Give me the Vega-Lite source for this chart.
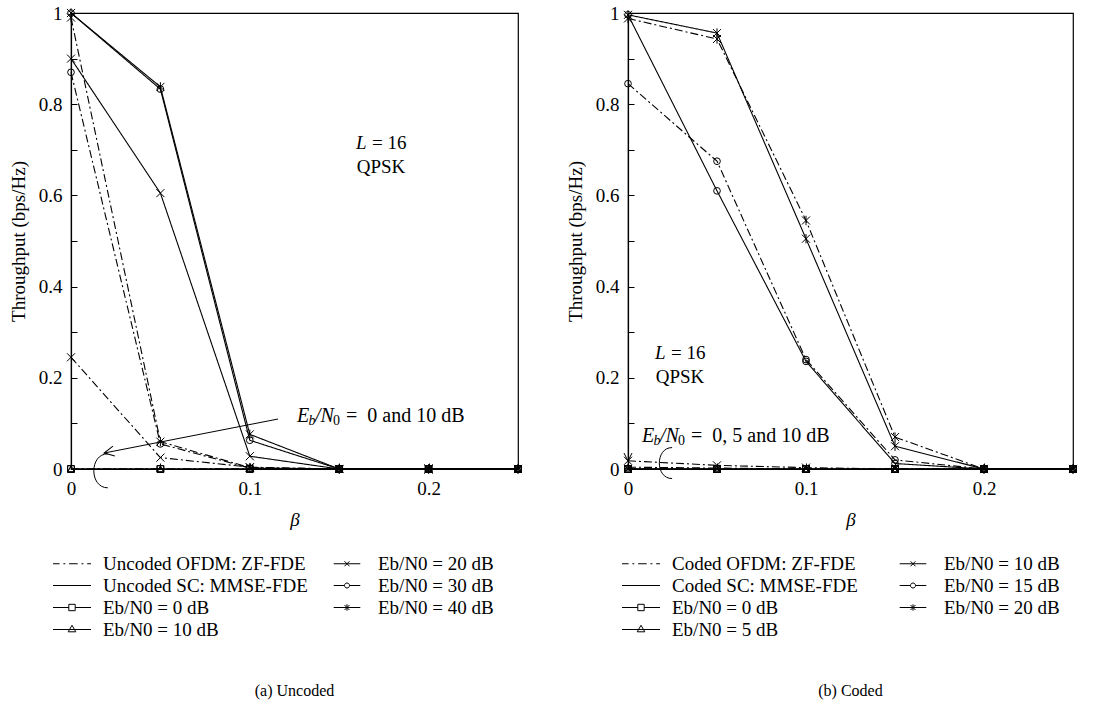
{
"$schema": "https://vega.github.io/schema/vega-lite/v6.json",
"background": "white",
"padding": {"left": 8, "top": 3, "right": 0, "bottom": 0},
"spacing": 40,
"config": {
 "font": "Liberation Serif",
 "view": {"stroke": "black", "strokeWidth": 1.2},
 "axis": {"domainColor": "black", "domainWidth": 1.2, "tickColor": "black", "tickWidth": 1, "tickSize": -6, "labelFontSize": 19, "labelColor": "black", "labelFont": "Liberation Serif", "titleFont": "Liberation Serif", "titleFontSize": 19, "titleFontWeight": "normal", "titleColor": "black", "grid": false, "labelOverlap": false, "labelFlush": false},
 "legend": {"labelFont": "Liberation Serif", "labelFontSize": 19, "labelColor": "black", "symbolStrokeColor": "black", "symbolFillColor": "transparent", "symbolStrokeWidth": 1, "symbolSize": 400, "symbolOpacity": 1, "labelOffset": 20.5, "rowPadding": 1, "labelLimit": 400, "orient": "none", "columns": 2},
 "title": {"font": "Liberation Serif", "fontSize": 16, "fontWeight": "normal", "color": "black"}
},
"datasets": {
 "unc": [
  {"scheme":"OFDM","snr":"0 dB","beta":0,"thr":0},{"scheme":"OFDM","snr":"0 dB","beta":0.05,"thr":0},{"scheme":"OFDM","snr":"0 dB","beta":0.1,"thr":0},{"scheme":"OFDM","snr":"0 dB","beta":0.15,"thr":0},{"scheme":"OFDM","snr":"0 dB","beta":0.2,"thr":0},{"scheme":"OFDM","snr":"0 dB","beta":0.25,"thr":0},
  {"scheme":"OFDM","snr":"10 dB","beta":0,"thr":0},{"scheme":"OFDM","snr":"10 dB","beta":0.05,"thr":0},{"scheme":"OFDM","snr":"10 dB","beta":0.1,"thr":0},{"scheme":"OFDM","snr":"10 dB","beta":0.15,"thr":0},{"scheme":"OFDM","snr":"10 dB","beta":0.2,"thr":0},{"scheme":"OFDM","snr":"10 dB","beta":0.25,"thr":0},
  {"scheme":"OFDM","snr":"20 dB","beta":0,"thr":0.245},{"scheme":"OFDM","snr":"20 dB","beta":0.05,"thr":0.025},{"scheme":"OFDM","snr":"20 dB","beta":0.1,"thr":0.004},{"scheme":"OFDM","snr":"20 dB","beta":0.15,"thr":0},{"scheme":"OFDM","snr":"20 dB","beta":0.2,"thr":0},{"scheme":"OFDM","snr":"20 dB","beta":0.25,"thr":0},
  {"scheme":"OFDM","snr":"30 dB","beta":0,"thr":0.87},{"scheme":"OFDM","snr":"30 dB","beta":0.05,"thr":0.055},{"scheme":"OFDM","snr":"30 dB","beta":0.1,"thr":0.002},{"scheme":"OFDM","snr":"30 dB","beta":0.15,"thr":0},{"scheme":"OFDM","snr":"30 dB","beta":0.2,"thr":0},{"scheme":"OFDM","snr":"30 dB","beta":0.25,"thr":0},
  {"scheme":"OFDM","snr":"40 dB","beta":0,"thr":0.99},{"scheme":"OFDM","snr":"40 dB","beta":0.05,"thr":0.06},{"scheme":"OFDM","snr":"40 dB","beta":0.1,"thr":0.003},{"scheme":"OFDM","snr":"40 dB","beta":0.15,"thr":0},{"scheme":"OFDM","snr":"40 dB","beta":0.2,"thr":0},{"scheme":"OFDM","snr":"40 dB","beta":0.25,"thr":0},
  {"scheme":"SC","snr":"0 dB","beta":0,"thr":0},{"scheme":"SC","snr":"0 dB","beta":0.05,"thr":0},{"scheme":"SC","snr":"0 dB","beta":0.1,"thr":0},{"scheme":"SC","snr":"0 dB","beta":0.15,"thr":0},{"scheme":"SC","snr":"0 dB","beta":0.2,"thr":0},{"scheme":"SC","snr":"0 dB","beta":0.25,"thr":0},
  {"scheme":"SC","snr":"10 dB","beta":0,"thr":0},{"scheme":"SC","snr":"10 dB","beta":0.05,"thr":0},{"scheme":"SC","snr":"10 dB","beta":0.1,"thr":0},{"scheme":"SC","snr":"10 dB","beta":0.15,"thr":0},{"scheme":"SC","snr":"10 dB","beta":0.2,"thr":0},{"scheme":"SC","snr":"10 dB","beta":0.25,"thr":0},
  {"scheme":"SC","snr":"20 dB","beta":0,"thr":0.9},{"scheme":"SC","snr":"20 dB","beta":0.05,"thr":0.605},{"scheme":"SC","snr":"20 dB","beta":0.1,"thr":0.028},{"scheme":"SC","snr":"20 dB","beta":0.15,"thr":0},{"scheme":"SC","snr":"20 dB","beta":0.2,"thr":0},{"scheme":"SC","snr":"20 dB","beta":0.25,"thr":0},
  {"scheme":"SC","snr":"30 dB","beta":0,"thr":1.0},{"scheme":"SC","snr":"30 dB","beta":0.05,"thr":0.833},{"scheme":"SC","snr":"30 dB","beta":0.1,"thr":0.063},{"scheme":"SC","snr":"30 dB","beta":0.15,"thr":0},{"scheme":"SC","snr":"30 dB","beta":0.2,"thr":0},{"scheme":"SC","snr":"30 dB","beta":0.25,"thr":0},
  {"scheme":"SC","snr":"40 dB","beta":0,"thr":1.0},{"scheme":"SC","snr":"40 dB","beta":0.05,"thr":0.838},{"scheme":"SC","snr":"40 dB","beta":0.1,"thr":0.076},{"scheme":"SC","snr":"40 dB","beta":0.15,"thr":0},{"scheme":"SC","snr":"40 dB","beta":0.2,"thr":0},{"scheme":"SC","snr":"40 dB","beta":0.25,"thr":0}
 ],
 "cod": [
  {"scheme":"OFDM","snr":"0 dB","beta":0,"thr":0},{"scheme":"OFDM","snr":"0 dB","beta":0.05,"thr":0},{"scheme":"OFDM","snr":"0 dB","beta":0.1,"thr":0},{"scheme":"OFDM","snr":"0 dB","beta":0.15,"thr":0},{"scheme":"OFDM","snr":"0 dB","beta":0.2,"thr":0},{"scheme":"OFDM","snr":"0 dB","beta":0.25,"thr":0},
  {"scheme":"OFDM","snr":"5 dB","beta":0,"thr":0.004},{"scheme":"OFDM","snr":"5 dB","beta":0.05,"thr":0.002},{"scheme":"OFDM","snr":"5 dB","beta":0.1,"thr":0},{"scheme":"OFDM","snr":"5 dB","beta":0.15,"thr":0},{"scheme":"OFDM","snr":"5 dB","beta":0.2,"thr":0},{"scheme":"OFDM","snr":"5 dB","beta":0.25,"thr":0},
  {"scheme":"OFDM","snr":"10 dB","beta":0,"thr":0.018},{"scheme":"OFDM","snr":"10 dB","beta":0.05,"thr":0.008},{"scheme":"OFDM","snr":"10 dB","beta":0.1,"thr":0.003},{"scheme":"OFDM","snr":"10 dB","beta":0.15,"thr":0},{"scheme":"OFDM","snr":"10 dB","beta":0.2,"thr":0},{"scheme":"OFDM","snr":"10 dB","beta":0.25,"thr":0},
  {"scheme":"OFDM","snr":"15 dB","beta":0,"thr":0.845},{"scheme":"OFDM","snr":"15 dB","beta":0.05,"thr":0.675},{"scheme":"OFDM","snr":"15 dB","beta":0.1,"thr":0.24},{"scheme":"OFDM","snr":"15 dB","beta":0.15,"thr":0.02},{"scheme":"OFDM","snr":"15 dB","beta":0.2,"thr":0},{"scheme":"OFDM","snr":"15 dB","beta":0.25,"thr":0},
  {"scheme":"OFDM","snr":"20 dB","beta":0,"thr":0.988},{"scheme":"OFDM","snr":"20 dB","beta":0.05,"thr":0.943},{"scheme":"OFDM","snr":"20 dB","beta":0.1,"thr":0.545},{"scheme":"OFDM","snr":"20 dB","beta":0.15,"thr":0.07},{"scheme":"OFDM","snr":"20 dB","beta":0.2,"thr":0},{"scheme":"OFDM","snr":"20 dB","beta":0.25,"thr":0},
  {"scheme":"SC","snr":"0 dB","beta":0,"thr":0},{"scheme":"SC","snr":"0 dB","beta":0.05,"thr":0},{"scheme":"SC","snr":"0 dB","beta":0.1,"thr":0},{"scheme":"SC","snr":"0 dB","beta":0.15,"thr":0},{"scheme":"SC","snr":"0 dB","beta":0.2,"thr":0},{"scheme":"SC","snr":"0 dB","beta":0.25,"thr":0},
  {"scheme":"SC","snr":"5 dB","beta":0,"thr":0},{"scheme":"SC","snr":"5 dB","beta":0.05,"thr":0},{"scheme":"SC","snr":"5 dB","beta":0.1,"thr":0},{"scheme":"SC","snr":"5 dB","beta":0.15,"thr":0},{"scheme":"SC","snr":"5 dB","beta":0.2,"thr":0},{"scheme":"SC","snr":"5 dB","beta":0.25,"thr":0},
  {"scheme":"SC","snr":"10 dB","beta":0,"thr":0},{"scheme":"SC","snr":"10 dB","beta":0.05,"thr":0},{"scheme":"SC","snr":"10 dB","beta":0.1,"thr":0},{"scheme":"SC","snr":"10 dB","beta":0.15,"thr":0},{"scheme":"SC","snr":"10 dB","beta":0.2,"thr":0},{"scheme":"SC","snr":"10 dB","beta":0.25,"thr":0},
  {"scheme":"SC","snr":"15 dB","beta":0,"thr":0.996},{"scheme":"SC","snr":"15 dB","beta":0.05,"thr":0.61},{"scheme":"SC","snr":"15 dB","beta":0.1,"thr":0.236},{"scheme":"SC","snr":"15 dB","beta":0.15,"thr":0.012},{"scheme":"SC","snr":"15 dB","beta":0.2,"thr":0},{"scheme":"SC","snr":"15 dB","beta":0.25,"thr":0},
  {"scheme":"SC","snr":"20 dB","beta":0,"thr":0.996},{"scheme":"SC","snr":"20 dB","beta":0.05,"thr":0.956},{"scheme":"SC","snr":"20 dB","beta":0.1,"thr":0.505},{"scheme":"SC","snr":"20 dB","beta":0.15,"thr":0.05},{"scheme":"SC","snr":"20 dB","beta":0.2,"thr":0},{"scheme":"SC","snr":"20 dB","beta":0.25,"thr":0}
 ],
 "legU": [{"entry":"Uncoded OFDM: ZF-FDE"},{"entry":"Uncoded SC: MMSE-FDE"},{"entry":"Eb/N0 = 0 dB"},{"entry":"Eb/N0 = 10 dB"},{"entry":"Eb/N0 = 20 dB"},{"entry":"Eb/N0 = 30 dB"},{"entry":"Eb/N0 = 40 dB"}],
 "legC": [{"entry":"Coded OFDM: ZF-FDE"},{"entry":"Coded SC: MMSE-FDE"},{"entry":"Eb/N0 = 0 dB"},{"entry":"Eb/N0 = 5 dB"},{"entry":"Eb/N0 = 10 dB"},{"entry":"Eb/N0 = 15 dB"},{"entry":"Eb/N0 = 20 dB"}],
 "annU": [
  {"seg":"L","beta":0.1594,"thr":0.715,"t":"L"},
  {"seg":"Lr","beta":0.1594,"thr":0.715,"t":"= 16"},
  {"seg":"Q","beta":0.1734,"thr":0.662,"t":"QPSK"},
  {"seg":"E","beta":0.1264,"thr":0.116,"t":"E"},
  {"seg":"sb","beta":0.1264,"thr":0.116,"t":"b"},
  {"seg":"N","beta":0.1264,"thr":0.116,"t":"/N"},
  {"seg":"s0","beta":0.1264,"thr":0.116,"t":"0"},
  {"seg":"Er","beta":0.1264,"thr":0.116,"t":"=\u00a0 0 and 10\u00a0dB"}
 ],
 "annC": [
  {"seg":"L","beta":0.0152,"thr":0.254,"t":"L"},
  {"seg":"Lr","beta":0.0152,"thr":0.254,"t":"= 16"},
  {"seg":"Q","beta":0.0292,"thr":0.202,"t":"QPSK"},
  {"seg":"E","beta":0.0079,"thr":0.072,"t":"E"},
  {"seg":"sb","beta":0.0079,"thr":0.072,"t":"b"},
  {"seg":"N","beta":0.0079,"thr":0.072,"t":"/N"},
  {"seg":"s0","beta":0.0079,"thr":0.072,"t":"0"},
  {"seg":"Er","beta":0.0079,"thr":0.072,"t":"=\u00a0 0, 5 and 10\u00a0dB"}
 ],
 "arrU": [
  {"kind":"line","beta":0.1158,"thr":0.1096,"beta2":0.0185,"thr2":0.035},
  {"kind":"head","beta":0.0185,"thr":0.035},
  {"kind":"brace","beta":0.0168,"thr":-0.004}
 ],
 "arrC": [
  {"kind":"head","beta":0,"thr":0.0175},
  {"kind":"brace","beta":0.0213,"thr":0.013}
 ]
},
"hconcat": [
 {
  "width": 447, "height": 456,
  "title": {"text": "(a) Uncoded", "orient": "bottom", "offset": 43},
  "encoding": {
   "x": {"field": "beta", "type": "quantitative", "title": "β", "scale": {"domain": [0, 0.25], "nice": false, "zero": false},
     "axis": {"values": [0, 0.05, 0.1, 0.15, 0.2, 0.25], "labelExpr": "datum.value < 0.001 ? '0' : abs(datum.value - 0.1) < 0.001 ? '0.1' : abs(datum.value - 0.2) < 0.001 ? '0.2' : ''", "titleFontStyle": "italic", "labelPadding": 16, "titlePadding": 12}},
   "y": {"field": "thr", "type": "quantitative", "title": "Throughput (bps/Hz)", "scale": {"domain": [0, 1], "nice": false},
     "axis": {"values": [0, 0.1, 0.2, 0.3, 0.4, 0.5, 0.6, 0.7, 0.8, 0.9, 1], "labelExpr": "round(datum.value * 10) % 2 == 0 ? format(datum.value, '~g') : ''", "labelPadding": 15, "titlePadding": 10}}
  },
  "layer": [
   {"data": {"name": "unc"}, "mark": {"type": "line", "color": "black", "strokeWidth": 1.1},
    "encoding": {"strokeDash": {"field": "scheme", "type": "nominal", "scale": {"domain": ["OFDM", "SC"], "range": [[8, 3, 2, 3], [1, 0]]}, "legend": null}, "detail": {"field": "snr"}}},
   {"data": {"name": "unc"}, "mark": {"type": "point", "filled": false, "color": "black", "size": 45, "strokeWidth": 1, "opacity": 1},
    "encoding": {"shape": {"field": "snr", "type": "nominal", "scale": {"domain": ["0 dB", "10 dB", "20 dB", "30 dB", "40 dB"], "range": ["square", "triangle-up", "M-1.2,-1.2L1.2,1.2M-1.2,1.2L1.2,-1.2", "circle", "M-1.2,-1.2L1.2,1.2M-1.2,1.2L1.2,-1.2M0,-1.4V1.4"]}, "legend": null}}},
   {"data": {"name": "legU"}, "mark": {"type": "point", "filled": false, "color": "black", "opacity": 0},
    "encoding": {"shape": {"field": "entry", "type": "nominal",
      "scale": {"domain": ["Uncoded OFDM: ZF-FDE", "Uncoded SC: MMSE-FDE", "Eb/N0 = 0 dB", "Eb/N0 = 10 dB", "Eb/N0 = 20 dB", "Eb/N0 = 30 dB", "Eb/N0 = 40 dB"],
       "range": ["M-1.9,0H-1.24M-0.86,0H-0.67M-0.29,0H0.57M0.95,0H1.14M1.52,0H1.9", "M-1.9,0H1.9", "M-1.9,0H-0.32M0.32,0H1.9M-0.32,-0.32H0.32V0.32H-0.32Z", "M-1.9,0H1.9M-0.38,0.23L0,-0.42L0.38,0.23Z", "M-1.33,0H1.33M-0.25,-0.25L0.25,0.25M0.25,-0.25L-0.25,0.25", "M-1.33,0H-0.25M0.25,0H1.33M-0.25,0A0.25,0.25 0 1,1 0.25,0A0.25,0.25 0 1,1 -0.25,0", "M-1.33,0H1.33M-0.25,-0.25L0.25,0.25M0.25,-0.25L-0.25,0.25M0,-0.32V0.32"]},
      "legend": {"title": null, "orient": "none", "legendX": -9.5, "legendY": 540, "columns": 2, "columnPadding": 23}}}},
   {"data": {"name": "annU"}, "transform": [{"filter": "datum.seg == 'L'"}], "mark": {"type": "text", "align": "left", "baseline": "middle", "fontSize": 19, "fontStyle": "italic", "color": "black"}, "encoding": {"text": {"field": "t"}}},
   {"data": {"name": "annU"}, "transform": [{"filter": "datum.seg == 'Lr'"}], "mark": {"type": "text", "align": "left", "baseline": "middle", "fontSize": 19, "dx": 16, "color": "black"}, "encoding": {"text": {"field": "t"}}},
   {"data": {"name": "annU"}, "transform": [{"filter": "datum.seg == 'Q'"}], "mark": {"type": "text", "align": "center", "baseline": "middle", "fontSize": 19, "color": "black"}, "encoding": {"text": {"field": "t"}}},
   {"data": {"name": "annU"}, "transform": [{"filter": "datum.seg == 'E'"}], "mark": {"type": "text", "align": "left", "baseline": "middle", "fontSize": 20, "fontStyle": "italic", "color": "black"}, "encoding": {"text": {"field": "t"}}},
   {"data": {"name": "annU"}, "transform": [{"filter": "datum.seg == 'sb'"}], "mark": {"type": "text", "align": "left", "baseline": "middle", "fontSize": 14, "fontStyle": "italic", "dx": 11.5, "dy": 5, "color": "black"}, "encoding": {"text": {"field": "t"}}},
   {"data": {"name": "annU"}, "transform": [{"filter": "datum.seg == 'N'"}], "mark": {"type": "text", "align": "left", "baseline": "middle", "fontSize": 20, "fontStyle": "italic", "dx": 18, "color": "black"}, "encoding": {"text": {"field": "t"}}},
   {"data": {"name": "annU"}, "transform": [{"filter": "datum.seg == 's0'"}], "mark": {"type": "text", "align": "left", "baseline": "middle", "fontSize": 14, "dx": 36, "dy": 5, "color": "black"}, "encoding": {"text": {"field": "t"}}},
   {"data": {"name": "annU"}, "transform": [{"filter": "datum.seg == 'Er'"}], "mark": {"type": "text", "align": "left", "baseline": "middle", "fontSize": 20, "dx": 49, "color": "black"}, "encoding": {"text": {"field": "t"}}},
   {"data": {"name": "arrU"}, "transform": [{"filter": "datum.kind == 'line'"}], "mark": {"type": "rule", "color": "black", "strokeWidth": 1}, "encoding": {"x2": {"field": "beta2"}, "y2": {"field": "thr2"}}},
   {"data": {"name": "arrU"}, "transform": [{"filter": "datum.kind == 'head'"}], "mark": {"type": "point", "filled": false, "color": "black", "opacity": 1, "strokeWidth": 1, "size": 400, "angle": 349, "shape": "M1,-0.5L0,0L1,0.5"}},
   {"data": {"name": "arrU"}, "transform": [{"filter": "datum.kind == 'brace'"}], "mark": {"type": "point", "filled": false, "color": "black", "opacity": 1, "strokeWidth": 1, "size": 1156, "shape": "M0.4,-1C-0.7,-1 -0.7,1 0.4,1"}}
  ],
  "resolve": {"scale": {"shape": "independent"}}
 },
 {
  "width": 445, "height": 456,
  "title": {"text": "(b) Coded", "orient": "bottom", "offset": 43},
  "encoding": {
   "x": {"field": "beta", "type": "quantitative", "title": "β", "scale": {"domain": [0, 0.25], "nice": false, "zero": false},
     "axis": {"values": [0, 0.05, 0.1, 0.15, 0.2, 0.25], "labelExpr": "datum.value < 0.001 ? '0' : abs(datum.value - 0.1) < 0.001 ? '0.1' : abs(datum.value - 0.2) < 0.001 ? '0.2' : ''", "titleFontStyle": "italic", "labelPadding": 16, "titlePadding": 12}},
   "y": {"field": "thr", "type": "quantitative", "title": "Throughput (bps/Hz)", "scale": {"domain": [0, 1], "nice": false},
     "axis": {"values": [0, 0.1, 0.2, 0.3, 0.4, 0.5, 0.6, 0.7, 0.8, 0.9, 1], "labelExpr": "round(datum.value * 10) % 2 == 0 ? format(datum.value, '~g') : ''", "labelPadding": 15, "titlePadding": 10}}
  },
  "layer": [
   {"data": {"name": "cod"}, "mark": {"type": "line", "color": "black", "strokeWidth": 1.1},
    "encoding": {"strokeDash": {"field": "scheme", "type": "nominal", "scale": {"domain": ["OFDM", "SC"], "range": [[8, 3, 2, 3], [1, 0]]}, "legend": null}, "detail": {"field": "snr"}}},
   {"data": {"name": "cod"}, "mark": {"type": "point", "filled": false, "color": "black", "size": 45, "strokeWidth": 1, "opacity": 1},
    "encoding": {"shape": {"field": "snr", "type": "nominal", "scale": {"domain": ["0 dB", "5 dB", "10 dB", "15 dB", "20 dB"], "range": ["square", "triangle-up", "M-1.2,-1.2L1.2,1.2M-1.2,1.2L1.2,-1.2", "circle", "M-1.2,-1.2L1.2,1.2M-1.2,1.2L1.2,-1.2M0,-1.4V1.4"]}, "legend": null}}},
   {"data": {"name": "legC"}, "mark": {"type": "point", "filled": false, "color": "black", "opacity": 0},
    "encoding": {"shape": {"field": "entry", "type": "nominal",
      "scale": {"domain": ["Coded OFDM: ZF-FDE", "Coded SC: MMSE-FDE", "Eb/N0 = 0 dB", "Eb/N0 = 5 dB", "Eb/N0 = 10 dB", "Eb/N0 = 15 dB", "Eb/N0 = 20 dB"],
       "range": ["M-1.9,0H-1.24M-0.86,0H-0.67M-0.29,0H0.57M0.95,0H1.14M1.52,0H1.9", "M-1.9,0H1.9", "M-1.9,0H-0.32M0.32,0H1.9M-0.32,-0.32H0.32V0.32H-0.32Z", "M-1.9,0H1.9M-0.38,0.23L0,-0.42L0.38,0.23Z", "M-1.33,0H1.33M-0.25,-0.25L0.25,0.25M0.25,-0.25L-0.25,0.25", "M-1.33,0H-0.25M0.25,0H1.33M-0.25,0A0.25,0.25 0 1,1 0.25,0A0.25,0.25 0 1,1 -0.25,0", "M-1.33,0H1.33M-0.25,-0.25L0.25,0.25M0.25,-0.25L-0.25,0.25M0,-0.32V0.32"]},
      "legend": {"title": null, "orient": "none", "legendX": 2.5, "legendY": 540, "columns": 2, "columnPadding": 39}}}},
   {"data": {"name": "annC"}, "transform": [{"filter": "datum.seg == 'L'"}], "mark": {"type": "text", "align": "left", "baseline": "middle", "fontSize": 19, "fontStyle": "italic", "color": "black"}, "encoding": {"text": {"field": "t"}}},
   {"data": {"name": "annC"}, "transform": [{"filter": "datum.seg == 'Lr'"}], "mark": {"type": "text", "align": "left", "baseline": "middle", "fontSize": 19, "dx": 16, "color": "black"}, "encoding": {"text": {"field": "t"}}},
   {"data": {"name": "annC"}, "transform": [{"filter": "datum.seg == 'Q'"}], "mark": {"type": "text", "align": "center", "baseline": "middle", "fontSize": 19, "color": "black"}, "encoding": {"text": {"field": "t"}}},
   {"data": {"name": "annC"}, "transform": [{"filter": "datum.seg == 'E'"}], "mark": {"type": "text", "align": "left", "baseline": "middle", "fontSize": 20, "fontStyle": "italic", "color": "black"}, "encoding": {"text": {"field": "t"}}},
   {"data": {"name": "annC"}, "transform": [{"filter": "datum.seg == 'sb'"}], "mark": {"type": "text", "align": "left", "baseline": "middle", "fontSize": 14, "fontStyle": "italic", "dx": 11.5, "dy": 5, "color": "black"}, "encoding": {"text": {"field": "t"}}},
   {"data": {"name": "annC"}, "transform": [{"filter": "datum.seg == 'N'"}], "mark": {"type": "text", "align": "left", "baseline": "middle", "fontSize": 20, "fontStyle": "italic", "dx": 18, "color": "black"}, "encoding": {"text": {"field": "t"}}},
   {"data": {"name": "annC"}, "transform": [{"filter": "datum.seg == 's0'"}], "mark": {"type": "text", "align": "left", "baseline": "middle", "fontSize": 14, "dx": 36, "dy": 5, "color": "black"}, "encoding": {"text": {"field": "t"}}},
   {"data": {"name": "annC"}, "transform": [{"filter": "datum.seg == 'Er'"}], "mark": {"type": "text", "align": "left", "baseline": "middle", "fontSize": 20, "dx": 49, "color": "black"}, "encoding": {"text": {"field": "t"}}},
   {"data": {"name": "arrC"}, "transform": [{"filter": "datum.kind == 'head'"}], "mark": {"type": "point", "filled": false, "color": "black", "opacity": 1, "strokeWidth": 1, "size": 256, "shape": "M-0.5,-1L0,0L0.5,-1"}},
   {"data": {"name": "arrC"}, "transform": [{"filter": "datum.kind == 'brace'"}], "mark": {"type": "point", "filled": false, "color": "black", "opacity": 1, "strokeWidth": 1, "size": 961, "shape": "M0.4,-1C-0.7,-1 -0.7,1 0.4,1"}}
  ],
  "resolve": {"scale": {"shape": "independent"}}
 }
]
}
